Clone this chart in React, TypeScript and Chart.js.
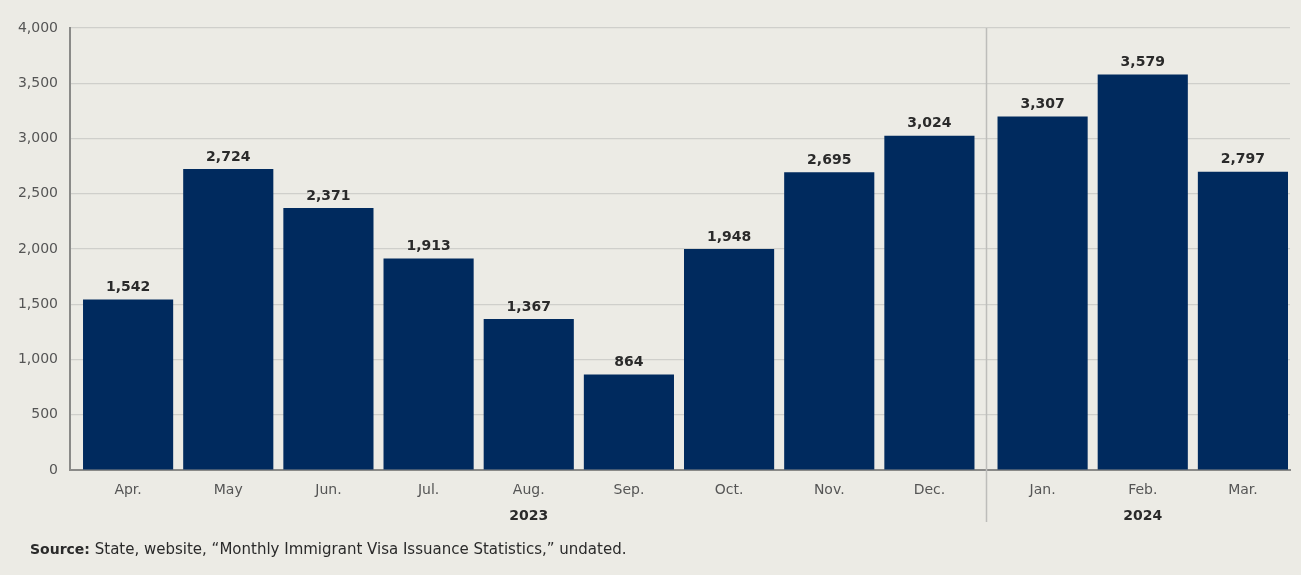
import React, { useEffect, useRef } from "react";
import { Chart, registerables } from "chart.js";

Chart.register(...registerables);

const months = ["Apr.", "May", "Jun.", "Jul.", "Aug.", "Sep.", "Oct.", "Nov.", "Dec.", "Jan.", "Feb.", "Mar."];
const years = ["2023", "2024"];
const yearOfMonth = [0, 0, 0, 0, 0, 0, 0, 0, 0, 1, 1, 1];
// bar heights as drawn in the reference
const barValues = [1542, 2724, 2371, 1913, 1367, 864, 2000, 2695, 3024, 3200, 3579, 2700];
// values printed above the bars
const labelValues = [1542, 2724, 2371, 1913, 1367, 864, 1948, 2695, 3024, 3307, 3579, 2797];
const yTicks = [0, 500, 1000, 1500, 2000, 2500, 3000, 3500, 4000];
const sourceLabel = "Source:";
const sourceText = " State, website, \u201cMonthly Immigrant Visa Issuance Statistics,\u201d undated.";

const FONT = "'DejaVu Sans', sans-serif";
const BG = "#ECEBE5";
const BAR = "#002A5E";
const YEAR_GAP = 0.13;

const slot = (i: number) => i + yearOfMonth[i] * YEAR_GAP;

const overlay = {
  id: "overlay",
  afterDatasetsDraw(chart: any) {
    const ctx = chart.ctx;
    const x = chart.scales.x;
    const y = chart.scales.y;
    ctx.save();
    // data labels
    ctx.font = `bold 14px ${FONT}`;
    ctx.fillStyle = "#2A2A2A";
    ctx.textAlign = "center";
    ctx.textBaseline = "bottom";
    barValues.forEach((v, i) => {
      ctx.fillText(labelValues[i].toLocaleString("en-US"), x.getPixelForValue(slot(i)), y.getPixelForValue(v) - 5);
    });
    // year separator
    for (let i = 1; i < months.length; i++) {
      if (yearOfMonth[i] !== yearOfMonth[i - 1]) {
        const px = Math.round((x.getPixelForValue(slot(i - 1)) + x.getPixelForValue(slot(i))) / 2) + 0.5;
        ctx.strokeStyle = "#BDBDBA";
        ctx.lineWidth = 1.5;
        ctx.beginPath();
        ctx.moveTo(px, chart.chartArea.top);
        ctx.lineTo(px, chart.chartArea.bottom + 52);
        ctx.stroke();
      }
    }
    // year labels
    ctx.font = `bold 14px ${FONT}`;
    ctx.fillStyle = "#2A2A2A";
    ctx.textBaseline = "middle";
    years.forEach((yr, k) => {
      const idx = months.map((_, i) => i).filter((i) => yearOfMonth[i] === k);
      const a = x.getPixelForValue(slot(idx[0]));
      const b = x.getPixelForValue(slot(idx[idx.length - 1]));
      ctx.fillText(yr, (a + b) / 2, chart.chartArea.bottom + 46);
    });
    // source
    ctx.textAlign = "left";
    ctx.textBaseline = "middle";
    ctx.font = `bold 14px ${FONT}`;
    ctx.fillStyle = "#2A2A2A";
    ctx.fillText(sourceLabel, 30, 550);
    const w = ctx.measureText(sourceLabel).width;
    ctx.font = `15px ${FONT}`;
    ctx.fillText(sourceText, 30 + w, 550);
    ctx.restore();
  },
};

export default function App() {
  const ref = useRef<HTMLCanvasElement>(null);
  useEffect(() => {
    document.body.style.margin = "0";
    const chart = new Chart(ref.current!, {
      type: "bar",
      data: {
        datasets: [
          {
            data: barValues.map((v, i) => ({ x: slot(i), y: v })),
            backgroundColor: BAR,
            categoryPercentage: 1,
            barPercentage: 0.9,
          },
        ],
      },
      options: {
        animation: false,
        responsive: false,
        layout: { padding: { top: 28, right: 11, left: 0, bottom: 0 } },
        plugins: { legend: { display: false }, tooltip: { enabled: false } },
        scales: {
          x: {
            type: "linear",
            offset: false,
            min: -0.58,
            max: 11.6,
            afterBuildTicks: (scale: any) => {
              scale.ticks = months.map((_, i) => ({ value: slot(i) }));
            },
            afterFit: (scale: any) => {
              scale.height = 105;
            },
            grid: { display: false, drawTicks: false },
            border: { display: true, color: "#8A8A88", width: 2 },
            ticks: {
              autoSkip: false,
              maxRotation: 0,
              padding: 12,
              color: "#555",
              font: { family: FONT, size: 14 },
              callback: (_v: any, i: number) => months[i],
            },
          },
          y: {
            min: 0,
            max: 4000,
            afterBuildTicks: (scale: any) => {
              scale.ticks = yTicks.map((v) => ({ value: v }));
            },
            afterFit: (scale: any) => {
              scale.width = 70;
            },
            grid: { color: "#CFCFCB", lineWidth: 1.2, drawTicks: false },
            border: { display: true, color: "#8A8A88", width: 2 },
            ticks: {
              padding: 12,
              color: "#555",
              font: { family: FONT, size: 14 },
              callback: (v: any) => Number(v).toLocaleString("en-US"),
            },
          },
        },
      } as any,
      plugins: [overlay],
    });
    return () => chart.destroy();
  }, []);
  return (
    <div style={{ position: "fixed", left: 0, top: 0, width: 1301, height: 575, background: BG }}>
      <canvas ref={ref} width={1301} height={575} style={{ width: 1301, height: 575, display: "block" }} />
    </div>
  );
}
